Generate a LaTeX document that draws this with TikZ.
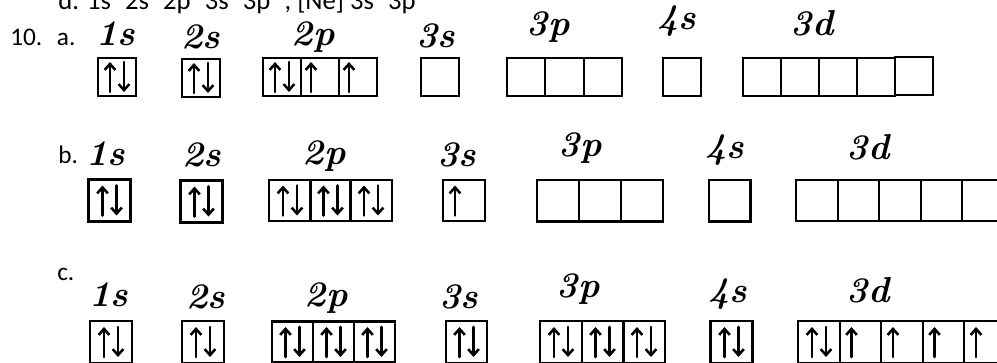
\documentclass[tikz,border=0pt]{standalone}
\usepackage{fontspec}
\newfontfamily\typed{Carlito}
\usepackage{tikz}
\usetikzlibrary{arrows.meta,positioning}
\tikzset{
  orb/.style={draw, line width=1.7pt, inner sep=0pt, minimum size=#1},
  orb/.default=29pt,
  spin/.style={line width=1.9pt, line cap=round, -{Straight Barb[length=4.5pt,width=8pt]}},
  hand/.style={font=\fontsize{27}{27}\selectfont\bfseries\itshape, inner sep=0pt},
  typed/.style={font=\typed\fontsize{19}{21}\selectfont, inner sep=0pt, anchor=base west}
}
% paired and single spins inside an orbital box
\newcommand{\spinpair}[1]{%
  \draw[spin] ([shift={(-7,15)}]#1.center) -- ([shift={(-7,-15)}]#1.center);
  \draw[spin] ([shift={(7,-15)}]#1.center) -- ([shift={(7,15)}]#1.center);}
\newcommand{\spinup}[1]{%
  \draw[spin] ([shift={(-9,15)}]#1.center) -- ([shift={(-9,-15)}]#1.center);}
\newcommand{\sps}[1]{\textsuperscript{#1}\hspace{3pt}}

\begin{document}
\begin{tikzpicture}[x=0.75pt, y=-0.75pt]
  \useasboundingbox (0,0) rectangle (997,362);
  \clip (0,0) rectangle (997,362);
  % previous answer, cut at the top
  \node[typed, font=\typed\fontsize{20}{22}\selectfont] (prev) at (58,9)
    {d. 1s\sps{2}2s\sps{2}2p\sps{6}3s\sps{2}3p\sps{2}, [Ne] 3s\sps{2}3p\textsuperscript{2}};

  % ---- 10. a.
  \node[typed] (qa) at (10,45) {10.\hspace{11pt}a.};
  \node[hand] (la1s) at (116,34) {1s};
  \node[hand] (la2s) at (201,37) {2s};
  \node[hand] (la2p) at (313,37) {2p};
  \node[hand] (la3s) at (436,36) {3s};
  \node[hand] (la3p) at (548,27) {3p};
  \node[hand] (la4s) at (677,21) {4s};
  \node[hand] (la3d) at (812,23) {3d};
  \node[orb] (a1s) at (117,77) {};
  \node[orb] (a2s) at (201,78) {};
  \foreach \k/\cx in {1/282,2/320,3/358}
    \node[orb] (a2p\k) at (\cx,77) {};
  \node[orb] (a3s) at (440,77) {};
  \foreach \k/\cx in {1/526,2/564.5,3/603}
    \node[orb] (a3p\k) at (\cx,77) {};
  \node[orb] (a4s) at (682,77) {};
  \foreach \k/\cx in {1/762,2/800,3/838,4/876}
    \node[orb] (a3d\k) at (\cx,77) {};
  \node[orb] (a3d5) at (914,76) {};
  \spinpair{a1s}
  \spinpair{a2s}
  \spinpair{a2p1}
  \spinup{a2p2}
  \spinup{a2p3}

  % ---- b.
  \node[typed] (qb) at (58,163) {b.};
  \node[hand] (lb1s) at (106,154) {1s};
  \node[hand] (lb2s) at (202,155) {2s};
  \node[hand] (lb2p) at (324,156) {2p};
  \node[hand] (lb3s) at (457,155) {3s};
  \node[hand] (lb3p) at (580,148) {3p};
  \node[hand] (lb4s) at (725,150) {4s};
  \node[hand] (lb3d) at (868,147) {3d};
  \node[orb=31.5pt] (b1s) at (109.5,200.5) {};
  \node[orb=31.5pt] (b2s) at (201.5,201.5) {};
  \foreach \k/\cx in {1/290,2/330.5,3/371}
    \node[orb=31pt] (b2p\k) at (\cx,200.5) {};
  \node[orb=31pt] (b3s) at (464,200.5) {};
  \foreach \k/\cx in {1/558,2/600,3/642}
    \node[orb=31.3pt] (b3p\k) at (\cx,200.5) {};
  \node[orb=31.3pt] (b4s) at (729.5,200.5) {};
  \foreach \k/\cx in {1/817,2/858.5,3/900,4/941.5,5/983}
    \node[orb=31.1pt] (b3d\k) at (\cx,200.5) {};
  \spinpair{b1s}
  \spinpair{b2s}
  \foreach \k in {1,2,3} {\spinpair{b2p\k}}
  \spinup{b3s}

  % ---- c.
  \node[typed] (qc) at (57,280) {c.};
  \node[hand] (lc1s) at (109,295) {1s};
  \node[hand] (lc2s) at (206,297) {2s};
  \node[hand] (lc2p) at (326,298) {2p};
  \node[hand] (lc3s) at (459,297) {3s};
  \node[hand] (lc3p) at (578,289) {3p};
  \node[hand] (lc4s) at (728,294) {4s};
  \node[hand] (lc3d) at (868,290) {3d};
  \node[orb=31.5pt] (c1s) at (111,342) {};
  \node[orb=31.5pt] (c2s) at (203,342) {};
  \foreach \k/\cx in {1/292.5,2/333.5,3/374.5}
    \node[orb=30.8pt] (c2p\k) at (\cx,342) {};
  \node[orb=31pt] (c3s) at (466.5,342) {};
  \foreach \k/\cx in {1/561,2/602.5,3/644}
    \node[orb=31.3pt] (c3p\k) at (\cx,342) {};
  \node[orb=31.5pt] (c4s) at (731.5,342) {};
  \foreach \k/\cx in {1/819,2/860.5,3/902,4/943.5,5/985}
    \node[orb=31.1pt] (c3d\k) at (\cx,342) {};
  \spinpair{c1s}
  \spinpair{c2s}
  \foreach \k in {1,2,3} {\spinpair{c2p\k}}
  \spinpair{c3s}
  \foreach \k in {1,2,3} {\spinpair{c3p\k}}
  \spinpair{c4s}
  \spinpair{c3d1}
  \foreach \k in {2,3,4,5} {\spinup{c3d\k}}
\end{tikzpicture}
\end{document}
